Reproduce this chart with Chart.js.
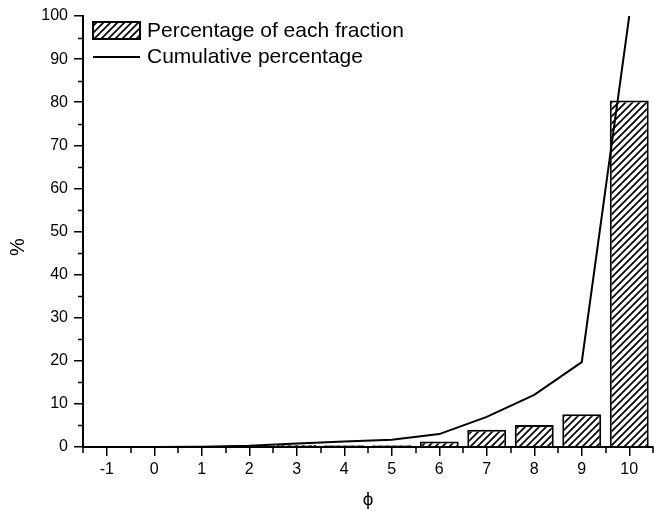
<!DOCTYPE html>
<html>
<head>
<meta charset="utf-8">
<script src="https://cdn.jsdelivr.net/npm/chart.js@4.4.0/dist/chart.umd.min.js"></script>
<style>
    html, body { margin: 0; padding: 0; background: #fff; }
</style>
</head>
<body>
<canvas id="sieveChart" width="654" height="515"></canvas>
<script>
// phi classes on the x axis
const phiLabels = ['-1', '0', '1', '2', '3', '4', '5', '6', '7', '8', '9', '10'];
// percentage of each fraction (bars)
const fractionPct = [0, 0, 0.05, 0.25, 0.5, 0.4, 0.4, 1.3, 4.0, 5.1, 7.6, 80.4];
// cumulative percentage (line)
const cumulativePct = [0, 0, 0.05, 0.3, 0.8, 1.3, 1.7, 3.0, 7.0, 12.1, 19.7, 100];
const legendNames = ['Percentage of each fraction', 'Cumulative percentage'];

const FONT = "'Liberation Sans', Arial, sans-serif";

// hatch pattern "////"
function makeHatch() {
    const c = document.createElement('canvas');
    const s = 7;
    c.width = s; c.height = s;
    const g = c.getContext('2d');
    g.fillStyle = '#fff';
    g.fillRect(0, 0, s, s);
    g.strokeStyle = '#000';
    g.lineWidth = 1.7;
    g.beginPath();
    g.moveTo(-1, s + 1); g.lineTo(s + 1, -1);
    g.moveTo(-1, 1); g.lineTo(1, -1);
    g.moveTo(s - 1, s + 1); g.lineTo(s + 1, s - 1);
    g.stroke();
    return c;
}
const ctx = document.getElementById('sieveChart').getContext('2d');
const hatch = ctx.createPattern(makeHatch(), 'repeat');

// minor ticks, y title and legend
const extras = {
    id: 'extras',
    afterDraw(chart) {
        const c = chart.ctx;
        const x = chart.scales.x, y = chart.scales.y;
        const a = chart.chartArea;
        c.save();
        c.strokeStyle = '#000';
        c.lineWidth = 1.5;
        c.beginPath();
        for (let v = 5; v < 100; v += 10) {
            const py = Math.round(y.getPixelForValue(v)) + 0.5;
            c.moveTo(a.left, py); c.lineTo(a.left - 5, py);
        }
        const half = (x.getPixelForValue(1) - x.getPixelForValue(0)) / 2;
        for (let i = 0; i <= phiLabels.length; i++) {
            const px = Math.round(x.getPixelForValue(i) - half);
            c.moveTo(px, a.bottom); c.lineTo(px, a.bottom + 6);
        }
        c.stroke();

        // y axis title
        c.fillStyle = '#000';
        c.font = '20px ' + FONT;
        c.textAlign = 'center';
        c.textBaseline = 'middle';
        c.translate(18, 247);
        c.rotate(-Math.PI / 2);
        c.fillText('%', 0, 0);
        c.setTransform(1, 0, 0, 1, 0, 0);

        // legend
        const lx = 93, bw = 47;
        c.fillStyle = hatch;
        c.fillRect(lx, 22, bw, 17);
        c.lineWidth = 2;
        c.strokeRect(lx, 22, bw, 17);
        c.beginPath();
        c.moveTo(lx, 57); c.lineTo(lx + bw, 57);
        c.stroke();
        c.fillStyle = '#000';
        c.font = '21px ' + FONT;
        c.textAlign = 'left';
        c.textBaseline = 'middle';
        c.fillText(legendNames[0], 147, 31);
        c.fillText(legendNames[1], 147, 57);
        c.restore();
    }
};

new Chart(ctx, {
    type: 'bar',
    data: {
        labels: phiLabels,
        datasets: [{
            type: 'line',
            label: legendNames[1],
            data: cumulativePct,
            borderColor: '#000',
            borderWidth: 2,
            pointRadius: 0,
            tension: 0,
            fill: false,
            order: 0
        }, {
            label: legendNames[0],
            data: fractionPct,
            backgroundColor: hatch,
            borderColor: '#000',
            borderWidth: 2,
            barPercentage: 0.82,
            categoryPercentage: 1,
            order: 1
        }]
    },
    options: {
        responsive: false,
        animation: false,
        layout: { padding: { top: 16, right: 1, left: 0, bottom: 0 } },
        plugins: {
            legend: { display: false },
            tooltip: { enabled: false }
        },
        scales: {
            x: {
                offset: true,
                afterFit(scale) { scale.height = 68; },
                grid: {
                    offset: false,
                    drawOnChartArea: false,
                    color: '#000',
                    lineWidth: 1.5,
                    tickLength: 9
                },
                border: { display: true, color: '#000', width: 2 },
                ticks: {
                    color: '#000',
                    padding: 4,
                    maxRotation: 0,
                    font: { family: FONT, size: 16 }
                },
                title: {
                    display: true,
                    text: 'ϕ',
                    color: '#000',
                    padding: { top: 4, bottom: 4 },
                    font: { family: FONT, size: 19 }
                }
            },
            y: {
                min: 0,
                max: 100,
                afterFit(scale) { scale.width = 83; },
                grid: {
                    drawOnChartArea: false,
                    color: '#000',
                    lineWidth: 1.5,
                    tickLength: 9
                },
                border: { display: true, color: '#000', width: 2 },
                ticks: {
                    stepSize: 10,
                    color: '#000',
                    padding: 6,
                    font: { family: FONT, size: 16 }
                },
                title: { display: false }
            }
        }
    },
    plugins: [extras]
});
</script>
</body>
</html>
